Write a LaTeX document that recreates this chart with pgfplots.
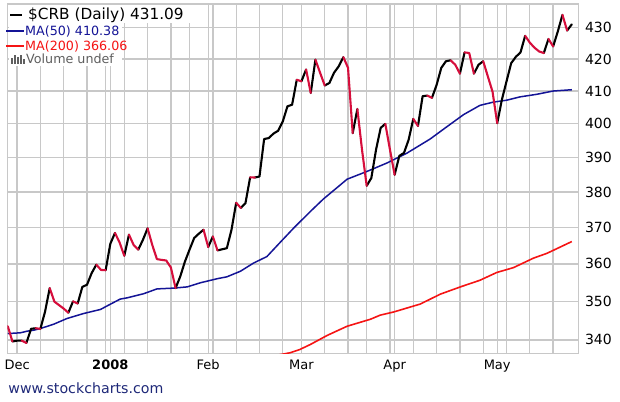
\documentclass[border=0pt]{standalone}
\usepackage{fontspec}
\setmainfont{DejaVu Sans}
\usepackage{pgfplots}
\pgfplotsset{compat=1.18}
\usepackage{pgfplotstable}
\definecolor{gridc}{RGB}{200,200,200}
\definecolor{downc}{RGB}{214,14,60}
\definecolor{ma50}{RGB}{20,20,150}
\definecolor{ma200}{RGB}{245,20,20}
\definecolor{sitec}{RGB}{30,40,120}
\definecolor{volc}{RGB}{95,95,95}

% rising (black) segments of the daily close, separated by nan
\pgfplotstableread{
i v
1 339.6
2 339.8
3 339.8
3.5 nan
4 339.2
5 342.8
6 343.0
6.5 nan
7 342.8
8 347.3
9 353.5
9.5 nan
13 347.0
14 350.0
14.5 nan
15 349.4
16 353.8
17 354.4
18 357.5
19 359.8
19.5 nan
21 358.3
22 365.5
23 368.5
23.5 nan
25 362.2
26 368.0
26.5 nan
28 363.9
29 366.6
30 369.8
30.5 nan
36 353.5
37 356.6
38 360.6
39 363.9
40 367.1
41 368.3
42 369.4
42.5 nan
43 364.6
44 367.5
44.5 nan
45 363.7
46 364.0
47 364.3
48 369.4
49 377.0
49.5 nan
50 375.5
51 376.9
52 384.3
52.5 nan
53 384.2
54 384.5
55 395.5
56 395.8
57 397.1
58 398.0
59 400.7
60 405.3
61 405.8
62 413.5
62.5 nan
63 413.0
64 416.7
64.5 nan
65 409.4
66 419.8
66.5 nan
68 411.7
69 412.5
70 415.7
71 417.7
72 420.6
72.5 nan
74 397.3
75 404.5
75.5 nan
77 381.8
78 384.1
79 392.3
80 398.8
81 400.0
81.5 nan
83 385.0
84 390.5
85 391.4
86 395.3
87 401.5
87.5 nan
88 399.4
89 408.4
90 408.6
90.5 nan
91 407.9
92 411.9
93 417.2
94 419.3
95 419.6
95.5 nan
97 415.4
98 422.1
98.5 nan
100 415.4
101 418.2
102 419.3
102.5 nan
105 400.2
106 407.3
107 413.0
108 418.7
109 420.7
110 422.1
111 427.4
111.5 nan
115 421.9
116 426.4
116.5 nan
117 424.0
118 428.8
119 434.2
119.5 nan
120 429.1
121 431.1
}\priceup

% falling (red) segments of the daily close, separated by nan
\pgfplotstableread{
i v
0 343.5
1 339.6
2 nan
3 339.8
4 339.2
5 nan
6 343.0
7 342.8
8 nan
9 353.5
10 349.9
11 349.0
12 348.1
13 347.0
13.5 nan
14 350.0
15 349.4
16 nan
19 359.8
20 358.4
21 358.3
22 nan
23 368.5
24 365.8
25 362.2
25.5 nan
26 368.0
27 365.2
28 363.9
29 nan
30 369.8
31 365.2
32 361.3
33 361.1
34 360.9
35 359.0
36 353.5
37 nan
42 369.4
43 364.6
43.5 nan
44 367.5
45 363.7
46 nan
49 377.0
50 375.5
51 nan
52 384.3
53 384.2
54 nan
62 413.5
63 413.0
63.5 nan
64 416.7
65 409.4
65.5 nan
66 419.8
67 415.7
68 411.7
69 nan
72 420.6
73 417.2
74 397.3
74.5 nan
75 404.5
76 392.3
77 381.8
78 nan
81 400.0
82 392.3
83 385.0
84 nan
87 401.5
88 399.4
89 nan
90 408.6
91 407.9
92 nan
95 419.6
96 418.2
97 415.4
97.5 nan
98 422.1
99 421.9
100 415.4
101 nan
102 419.3
103 414.5
104 409.8
105 400.2
106 nan
111 427.4
112 425.2
113 423.6
114 422.4
115 421.9
115.5 nan
116 426.4
117 424.0
118 nan
119 434.2
120 429.1
}\pricedown

\pgfplotstableread{
i v
0 341.6
2.7 341.8
4.1 342.2
5.6 342.5
7 342.9
9.8 344.0
12.7 345.5
16.3 346.8
19.9 347.9
21.3 348.8
24.1 350.6
25.6 350.9
29.1 352.0
32 353.3
35.6 353.5
38.5 353.8
41.3 354.9
44.9 356.0
47 356.5
49.9 358.0
52.7 360.2
55.6 362.0
58.5 366.0
61.3 369.8
64.9 374.5
67.7 378.0
72.8 383.7
77.1 386.0
81.3 388.4
85.6 391.3
90.6 395.5
94.2 399.2
97.8 402.8
101.3 405.6
104.2 406.6
107.1 407.2
109.9 408.2
113.5 409.0
117 410.0
121 410.4
}\mafifty

\pgfplotstableread{
i v
57 335.9
60.6 336.7
62.6 337.5
64.9 338.8
68.5 341.1
72.8 343.5
77.8 345.3
79.9 346.4
82.8 347.2
88.5 349.3
92.8 351.9
97.1 353.8
101.3 355.6
104.9 357.7
108.5 359.0
112.8 361.6
115.7 362.9
121 366.1
}\matwohundred

\begin{document}
\begin{tikzpicture}[x=1pt,y=1pt]
\begin{axis}[
  at={(7.3pt,47.7pt)}, anchor=south west,
  width=571pt, height=349.3pt, scale only axis,
  xmin=-0.1, xmax=122.4,
  ymode=log, ymin=336.6, ymax=437.8,
  xtick={2,22,43,63,83,105},
  xticklabels={Dec,{\fontsize{13}{13}\selectfont\bfseries 2008},Feb,Mar,Apr,May},
  minor xtick={7,12,17,21,25,30,35,39,44,49,54,59,68,73,77,82,87,92,97,102,107,112,117},
  ytick={340,350,360,370,380,390,400,410,420,430},
  yticklabels={340,350,360,370,380,390,400,410,420,430},
  yticklabel pos=right,
  xmajorgrids, xminorgrids, ymajorgrids,
  major grid style={gridc, line width=1.3pt},
  minor grid style={gridc, line width=1.3pt},
  axis line style={gridc, line width=1.3pt},
  major tick length=0pt, minor tick length=0pt,
  xticklabel style={anchor=base, yshift=-16.7pt, inner sep=0pt, font=\fontsize{13}{13}\selectfont},
  yticklabel style={anchor=west, xshift=6.5pt, inner sep=0pt, font=\fontsize{14}{14}\selectfont},
  unbounded coords=jump,
]
\addplot[ma200, line width=1.6pt, line join=round] table[x=i,y=v] {\matwohundred};
\addplot[ma50, line width=1.5pt, line join=round] table[x=i,y=v] {\mafifty};
\addplot[black, line width=2.1pt, line join=round, line cap=round] table[x=i,y=v] {\priceup};
\addplot[downc, line width=2.1pt, line join=round, line cap=round] table[x=i,y=v] {\pricedown};
\end{axis}
% legend
\fill[white] (8.5,378) rectangle (190,396);
\fill[white] (8.5,335) rectangle (122,378);
\draw[black, line width=2.2pt] (10,386) -- (22,386);
\node[anchor=base west, inner sep=0pt, font=\fontsize{15.3}{15.3}\selectfont] at (28,381.5) {\$CRB (Daily) 431.09};
\draw[ma50, line width=2pt] (6,370) -- (24,370);
\node[anchor=base west, inner sep=0pt, font=\fontsize{12.7}{12.7}\selectfont, text=ma50] at (25,365.5) {MA(50) 410.38};
\draw[ma200, line width=2pt] (6,355) -- (24,355);
\node[anchor=base west, inner sep=0pt, font=\fontsize{12.7}{12.7}\selectfont, text=ma200] at (25,350.5) {MA(200) 366.06};
\fill[volc] (10.5,337) rectangle (12.5,343);
\fill[volc] (13.5,337) rectangle (15.5,345.5);
\fill[volc] (16.5,337) rectangle (18.5,344);
\fill[volc] (19.5,337) rectangle (21.5,346);
\fill[volc] (22.5,337) rectangle (24.5,342);
\node[anchor=base west, inner sep=0pt, font=\fontsize{12.7}{12.7}\selectfont, text=volc] at (26,337) {Volume undef};
% footer
\node[anchor=base west, inner sep=0pt, font=\fontsize{14.2}{14.2}\selectfont, text=sitec] at (8.3,8) {www.stockcharts.com};
\pgfresetboundingbox
\path (0,0) rectangle (620,401);
\end{tikzpicture}
\end{document}
